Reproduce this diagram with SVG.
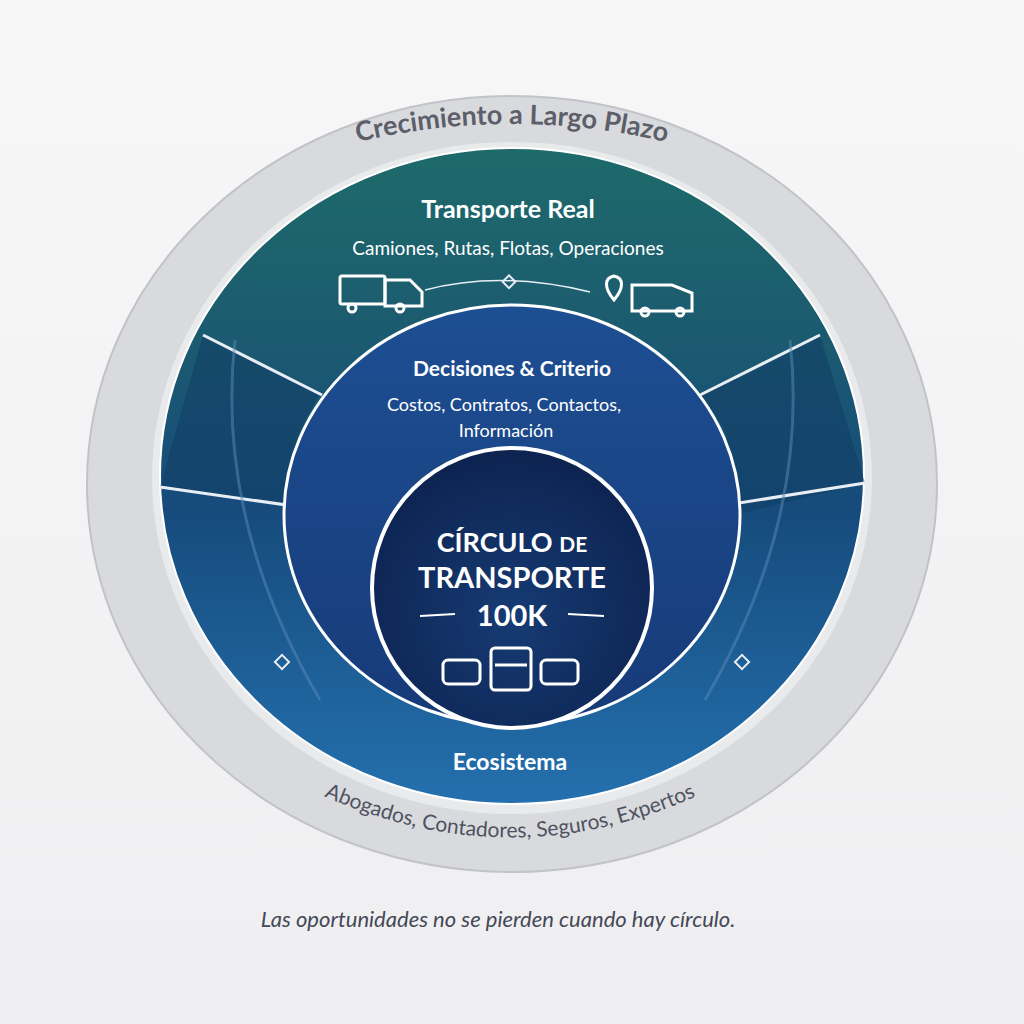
<svg xmlns="http://www.w3.org/2000/svg" width="1024" height="1024" viewBox="0 0 1024 1024">
<defs>
<linearGradient id="bg" x1="0" y1="0" x2="0" y2="1"><stop offset="0" stop-color="#f7f7f8"/><stop offset="1" stop-color="#efeff1"/></linearGradient>
<linearGradient id="disk" x1="0" y1="0" x2="0" y2="1"><stop offset="0" stop-color="#1e6a6a"/><stop offset="0.3" stop-color="#1b5a70"/><stop offset="0.55" stop-color="#164b7c"/><stop offset="1" stop-color="#2470ae"/></linearGradient>
<linearGradient id="mid" x1="0" y1="0" x2="0" y2="1"><stop offset="0" stop-color="#1d4f93"/><stop offset="1" stop-color="#173a78"/></linearGradient>
<radialGradient id="core" cx="0.5" cy="0.6" r="0.6"><stop offset="0" stop-color="#163b74"/><stop offset="1" stop-color="#0d2350"/></radialGradient>
<path id="topArc" d="M 200 198 Q 512 50 824 198"/>
<path id="botArc" d="M 300 785 Q 512 890 720 785"/>
<style>
.t{font-family:"Lato","Liberation Sans",sans-serif;fill:#fff;text-anchor:middle}
.w{stroke:#e8eef5;stroke-width:3;fill:none}
</style>
</defs>
<rect width="1024" height="1024" fill="url(#bg)"/>
<g id="ring">
<ellipse cx="512" cy="484" rx="425" ry="388" fill="#d9dadd" stroke="#c2c3c8" stroke-width="2"/>
<ellipse cx="512" cy="478" rx="360" ry="336" fill="#e9eaec"/>
<text font-family="Lato,'Liberation Sans',sans-serif" font-size="27" font-weight="bold" fill="#5c5f6a" text-anchor="middle"><textPath href="#topArc" startOffset="50%">Crecimiento a Largo Plazo</textPath></text>
<text font-family="Lato,'Liberation Sans',sans-serif" font-size="21" fill="#4f5260" text-anchor="middle"><textPath href="#botArc" startOffset="50%">Abogados, Contadores, Seguros, Expertos</textPath></text>
</g>
<g id="outer-disk">
<ellipse cx="512" cy="476" rx="352" ry="328" fill="url(#disk)" stroke="#ffffff" stroke-width="2"/>
<path d="M203 335 L320 393 L300 430 L285 505 L160 487 Z" fill="#123f66" opacity="0.6"/>
<path d="M820 335 L700 393 L725 430 L735 515 L865 483 Z" fill="#123f66" opacity="0.6"/>
<text class="t" x="508" y="218" font-size="25" font-weight="bold">Transporte Real</text>
<text class="t" x="508" y="255" font-size="19">Camiones, Rutas, Flotas, Operaciones</text>
<text class="t" x="510" y="770" font-size="23" font-weight="bold">Ecosistema</text>
</g>
<g id="connectors" class="w">
<line x1="203" y1="335" x2="322" y2="395"/>
<line x1="820" y1="335" x2="700" y2="395"/>
<line x1="160" y1="487" x2="378" y2="518"/>
<line x1="865" y1="483" x2="645" y2="518"/>
<path d="M425 290 Q500 270 590 292" stroke-width="1.5"/>
<path d="M235 340 Q215 520 320 700" stroke="#5a8ab8" stroke-width="3" opacity="0.5"/>
<path d="M790 340 Q810 520 705 700" stroke="#5a8ab8" stroke-width="3" opacity="0.5"/>
<rect x="505" y="277" width="9" height="9" transform="rotate(45 509 281)" stroke-width="2"/>
<rect x="277" y="657" width="10" height="10" transform="rotate(45 282 662)" stroke-width="2"/>
<rect x="737" y="657" width="10" height="10" transform="rotate(45 742 662)" stroke-width="2"/>
</g>
<g id="decisiones">
<ellipse cx="512" cy="515" rx="228" ry="210" fill="url(#mid)" stroke="#ffffff" stroke-width="3"/>
<text class="t" x="512" y="376" font-size="21" font-weight="bold">Decisiones &amp; Criterio</text>
<text class="t" x="504" y="411" font-size="18">Costos, Contratos, Contactos,</text>
<text class="t" x="506" y="437" font-size="18">Información</text>
</g>
<g id="core-node">
<circle cx="512" cy="588" r="140" fill="url(#core)" stroke="#ffffff" stroke-width="4"/>
<text class="t" x="512" y="552" font-size="27" font-weight="bold">CÍRCULO <tspan font-size="21">DE</tspan></text>
<text class="t" x="512" y="588" font-size="29" font-weight="bold">TRANSPORTE</text>
<text class="t" x="512" y="626" font-size="29" font-weight="bold">100K</text>
<line x1="420" y1="616" x2="455" y2="614" stroke="#fff" stroke-width="2"/>
<line x1="568" y1="614" x2="604" y2="616" stroke="#fff" stroke-width="2"/>
<g fill="none" stroke="#fff" stroke-width="3">
<rect x="443" y="660" width="37" height="24" rx="5"/>
<rect x="491" y="648" width="40" height="42" rx="4"/>
<rect x="541" y="660" width="37" height="24" rx="5"/>
<line x1="495" y1="665" x2="527" y2="665"/>
</g>
</g>
<g id="truck-icons" fill="none" stroke="#fff" stroke-width="3">
<rect x="340" y="276" width="45" height="28" rx="2"/>
<path d="M385 280 h25 l12 12 v14 h-37 z"/>
<circle cx="352" cy="308" r="4"/><circle cx="400" cy="308" r="4"/>
<path d="M614 300 c-10 -12 -10 -22 0 -24 c10 2 10 12 0 24 z"/>
<path d="M632 285 h40 l20 8 v18 h-60 z"/>
<circle cx="645" cy="312" r="4"/><circle cx="680" cy="312" r="4"/>
</g>
<text x="498" y="927" font-family="Lato,'Liberation Sans',sans-serif" font-size="22" font-style="italic" fill="#454857" text-anchor="middle">Las oportunidades no se pierden cuando hay círculo.</text>
</svg>
